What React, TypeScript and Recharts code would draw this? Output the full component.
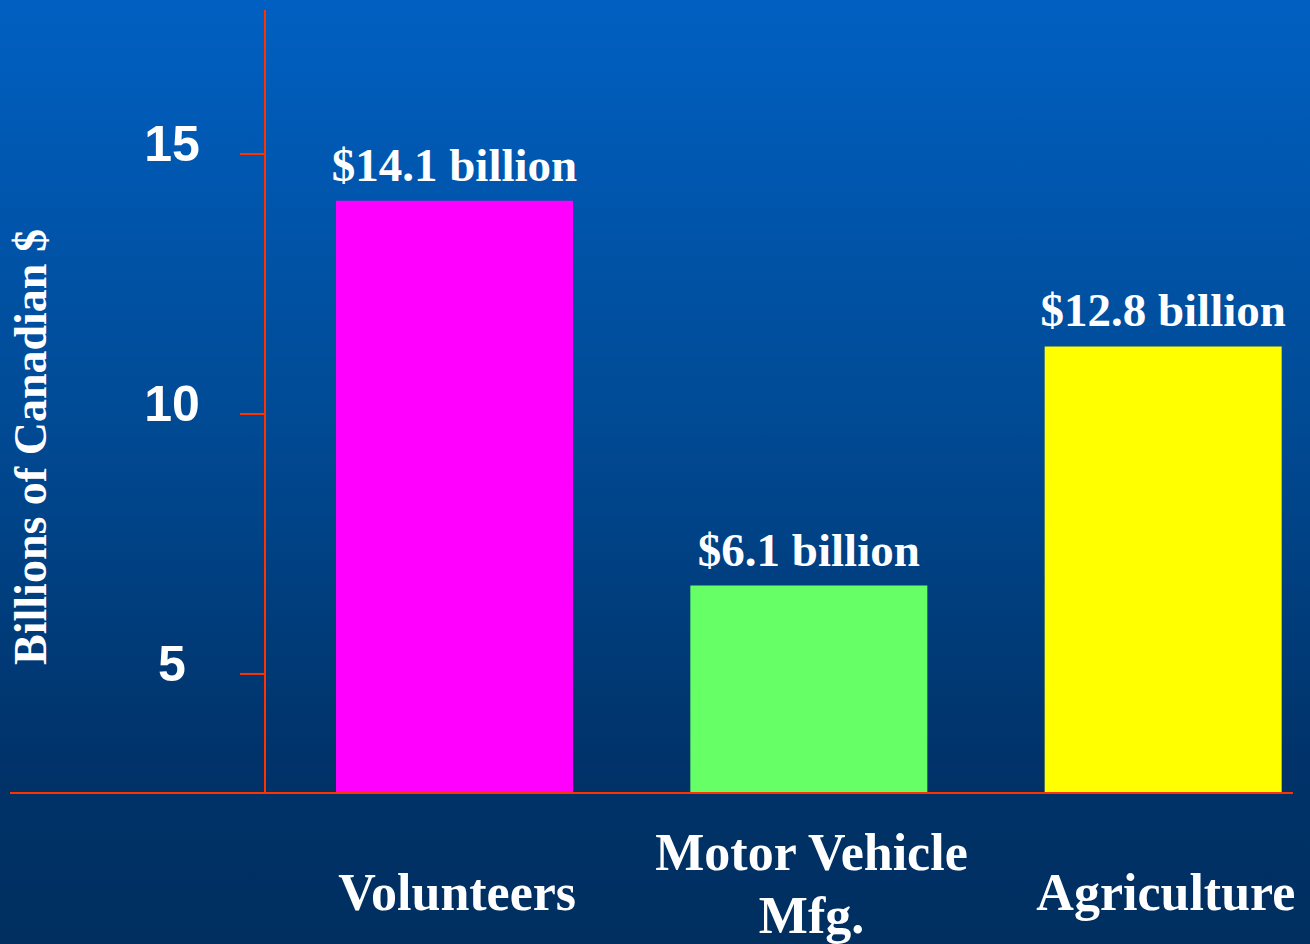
import { BarChart, Bar, XAxis, YAxis, Cell, LabelList } from 'recharts';

const categories = ['Volunteers', 'Motor Vehicle\nMfg.', 'Agriculture'];
const values = [14.1, 6.7, 11.3];
const valueLabels = ['$14.1 billion', '$6.1 billion', '$12.8 billion'];
const yTicks = [5, 10, 15];

const COLORS = ['#ff00ff', '#66ff66', '#ffff00'];
const AXIS = '#ff3300';
const SERIF = "'Times New Roman', 'Liberation Serif', serif";
const SANS = "Arial, 'Liberation Sans', sans-serif";

const data = categories.map((name, i) => ({
  name,
  value: values[i],
  label: valueLabels[i],
}));

const YTick = ({ y, payload }: any) => (
  <text
    x={172}
    y={y - 10}
    textAnchor="middle"
    dominantBaseline="central"
    fill="#fff"
    fontFamily={SANS}
    fontWeight="bold"
    fontSize={50}
  >
    {payload.value}
  </text>
);

const XTick = ({ x, y, payload }: any) => {
  const lines = String(payload.value).split('\n');
  const starts = lines.length === 1 ? [117] : [77, 140];
  return (
    <g>
      {lines.map((line, i) => (
        <text
          key={i}
          x={x + 3}
          y={y + starts[i]}
          textAnchor="middle"
          fill="#fff"
          fontFamily={SERIF}
          fontWeight="bold"
          fontSize={52}
        >
          {line}
        </text>
      ))}
    </g>
  );
};

export default function App() {
  return (
    <div
      style={{
        position: 'relative',
        width: 1310,
        height: 944,
        overflow: 'hidden',
        background: 'linear-gradient(to bottom, #0060c2 0%, #004a94 45%, #00336a 80%, #002f60 100%)',
      }}
    >
      <style>{'body{margin:0}'}</style>
      <BarChart
        width={1360}
        height={944}
        data={data}
        margin={{ top: 10, right: 20, bottom: 0, left: 0 }}
      >
        <XAxis
          dataKey="name"
          height={151}
          axisLine={false}
          tickLine={false}
          tickSize={0}
          tickMargin={0}
          padding={{ left: 12, right: 0 }}
          interval={0}
          tick={<XTick />}
        />
        <YAxis
          width={265}
          domain={[2.71, 17.77]}
          ticks={yTicks}
          allowDataOverflow
          axisLine={{ stroke: AXIS, strokeWidth: 2 }}
          tickLine={{ stroke: AXIS, strokeWidth: 2 }}
          tickSize={25}
          tick={<YTick />}
        />
        <Bar dataKey="value" barSize={237} isAnimationActive={false}>
          {data.map((d, i) => (
            <Cell key={d.name} fill={COLORS[i]} />
          ))}
          <LabelList
            dataKey="label"
            position="top"
            offset={20}
            fill="#fff"
            fontFamily={SERIF}
            fontWeight="bold"
            fontSize={47}
          />
        </Bar>
      </BarChart>
      <div
        style={{
          position: 'absolute',
          left: 10,
          top: 792,
          width: 1283,
          height: 2,
          background: AXIS,
        }}
      />
      <svg
        width={80}
        height={944}
        style={{ position: 'absolute', left: 0, top: 0 }}
      >
        <text
          x={30}
          y={447}
          transform="rotate(-90, 30, 447)"
          textAnchor="middle"
          dominantBaseline="central"
          fill="#fff"
          fontFamily={SERIF}
          fontWeight="bold"
          fontSize={46}
        >
          Billions of Canadian $
        </text>
      </svg>
    </div>
  );
}
